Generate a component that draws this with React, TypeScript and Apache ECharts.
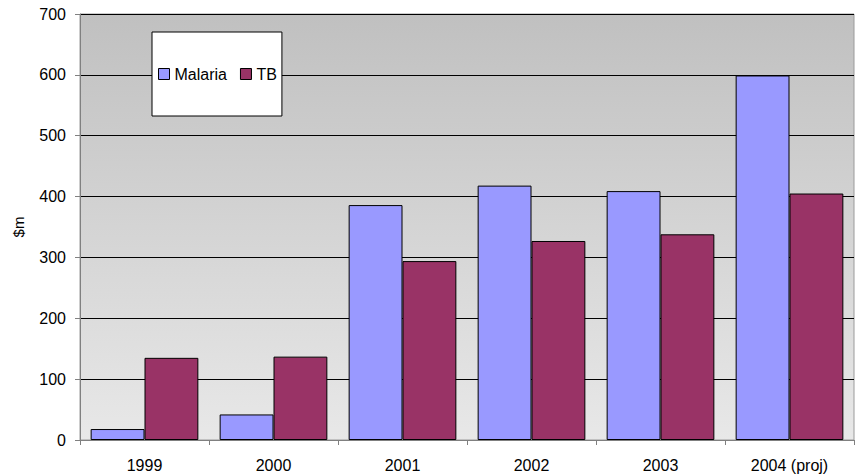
import React, { useEffect, useRef } from "react";
import * as echarts from "echarts";

const categories = ["1999", "2000", "2001", "2002", "2003", "2004 (proj)"];
const malaria = [18, 42, 386, 418, 409, 599];
const tb = [135, 137, 294, 327, 338, 405];
const yTicks = { min: 0, max: 700, interval: 100 };

export default function App() {
  const ref = useRef<HTMLDivElement>(null);
  useEffect(() => {
    const chart = echarts.init(ref.current!, null, { renderer: "svg" });
    const font = "'Liberation Sans', Arial, sans-serif";
    chart.setOption({
      animation: false,
      textStyle: { fontFamily: font },
      grid: {
        left: 80,
        right: 6,
        top: 14,
        bottom: 36,
        show: true,
        borderColor: "#9a9a9a",
        borderWidth: 1,
        backgroundColor: {
          type: "linear",
          x: 0,
          y: 0,
          x2: 0,
          y2: 1,
          colorStops: [
            { offset: 0, color: "#c0c0c0" },
            { offset: 1, color: "#e8e8e8" },
          ],
        },
      },
      legend: {
        left: 152,
        top: 32,
        orient: "horizontal",
        backgroundColor: "#ffffff",
        borderColor: "#000000",
        borderWidth: 1,
        padding: [34, 5, 34, 6],
        itemWidth: 11,
        itemHeight: 11,
        itemGap: 13,
        icon: "rect",
        textStyle: { fontSize: 16, color: "#000", fontFamily: font },
        data: [
          { name: "Malaria", itemStyle: { borderColor: "#000", borderWidth: 1 } },
          { name: "TB", itemStyle: { borderColor: "#000", borderWidth: 1 } },
        ],
      },
      xAxis: {
        type: "category",
        data: categories,
        axisLine: { lineStyle: { color: "#808080", width: 1 } },
        axisTick: { show: true, length: 5, lineStyle: { color: "#808080" } },
        axisLabel: { color: "#000", fontSize: 16, margin: 17, fontFamily: font },
      },
      yAxis: {
        type: "value",
        min: yTicks.min,
        max: yTicks.max,
        interval: yTicks.interval,
        name: "$m",
        nameLocation: "middle",
        nameGap: 54,
        nameTextStyle: { color: "#000", fontSize: 15, fontFamily: font },
        axisLine: { show: true, lineStyle: { color: "#808080", width: 1 } },
        axisTick: { show: true, length: 5, lineStyle: { color: "#808080" } },
        axisLabel: { color: "#000", fontSize: 16, margin: 14, fontFamily: font },
        splitLine: { show: true, lineStyle: { color: "#000", width: 1 } },
      },
      series: [
        {
          name: "Malaria",
          type: "bar",
          data: malaria,
          barGap: "0%",
          barCategoryGap: "16.5%",
          itemStyle: { color: "#9999ff", borderColor: "#000", borderWidth: 1 },
        },
        {
          name: "TB",
          type: "bar",
          data: tb,
          barGap: "0%",
          barCategoryGap: "16.5%",
          itemStyle: { color: "#993366", borderColor: "#000", borderWidth: 1 },
        },
      ],
    });
    return () => chart.dispose();
  }, []);
  return (
    <div
      ref={ref}
      style={{ position: "absolute", left: 0, top: 0, width: 860, height: 476 }}
    />
  );
}
